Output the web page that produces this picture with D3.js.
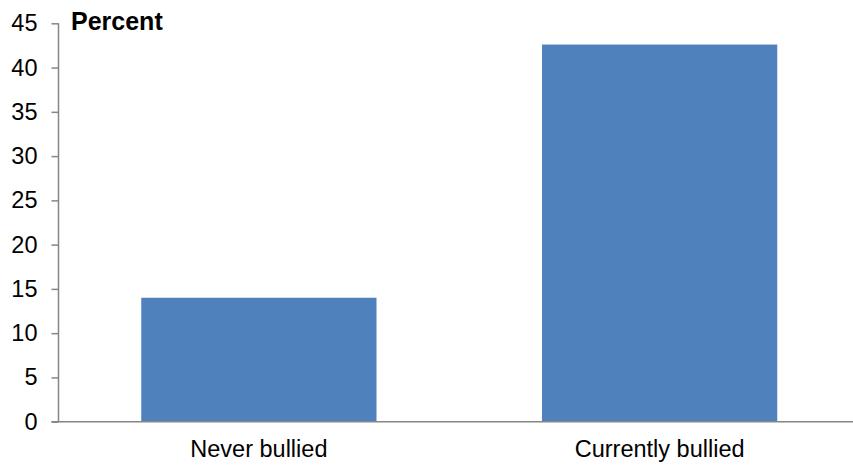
<!DOCTYPE html>
<html>
<head>
<meta charset="utf-8">
<script src="https://cdn.jsdelivr.net/npm/d3@7"></script>
<style>
  body { margin: 0; background: #fff; }
  svg text { font-family: "Liberation Sans", Arial, sans-serif; }
</style>
</head>
<body>
<div id="chart"></div>
<script>
var categories = ['Never bullied', 'Currently bullied'];
var values = [14.0, 42.6];
var y_ticks = [0, 5, 10, 15, 20, 25, 30, 35, 40, 45];

var chart_width = 853;
var chart_height = 465;
var axis_x = 58.5;
var axis_y = 421.7;
var top_y = 23.3;

var svg = d3.select('#chart')
    .append('svg')
    .attr('width', chart_width)
    .attr('height', chart_height);

var x_scale = d3.scaleBand()
    .domain(categories)
    .range([axis_x, 860])
    .paddingInner(0.413)
    .paddingOuter(0.2065);

var y_scale = d3.scaleLinear()
    .domain([0, 45])
    .range([axis_y, top_y]);

// bars
svg.append('g')
    .selectAll('rect')
    .data(values)
    .enter()
    .append('rect')
    .attr('x', function (d, i) { return x_scale(categories[i]); })
    .attr('y', function (d) { return y_scale(d); })
    .attr('width', x_scale.bandwidth())
    .attr('height', function (d) { return y_scale(0) - y_scale(d); })
    .attr('fill', '#4f81bd');

// y axis
var y_axis = d3.axisLeft(y_scale)
    .tickValues(y_ticks)
    .tickSize(7)
    .tickPadding(14);
var gy = svg.append('g')
    .attr('transform', 'translate(' + axis_x + ',0)')
    .call(y_axis);
gy.select('.domain').attr('stroke', '#868686').attr('stroke-width', 1.5)
    .attr('d', 'M0,' + top_y + 'V' + axis_y);
gy.selectAll('.tick line').attr('stroke', '#868686').attr('stroke-width', 1.5);
gy.selectAll('.tick text').attr('fill', '#000').style('font-size', '23.5px');

// x axis
var x_axis = d3.axisBottom(x_scale).tickSize(0).tickPadding(19);
var gx = svg.append('g')
    .attr('transform', 'translate(0,' + axis_y + ')')
    .call(x_axis);
gx.select('.domain').attr('stroke', '#868686').attr('stroke-width', 1.5)
    .attr('d', 'M' + (axis_x - 7) + ',0H860');
gx.selectAll('.tick text').attr('fill', '#000').style('font-size', '23.5px');

// axis title
svg.append('text')
    .attr('x', 71)
    .attr('y', 29.5)
    .text('Percent')
    .style('font-weight', 'bold')
    .style('font-size', '25px');
</script>
</body>
</html>
